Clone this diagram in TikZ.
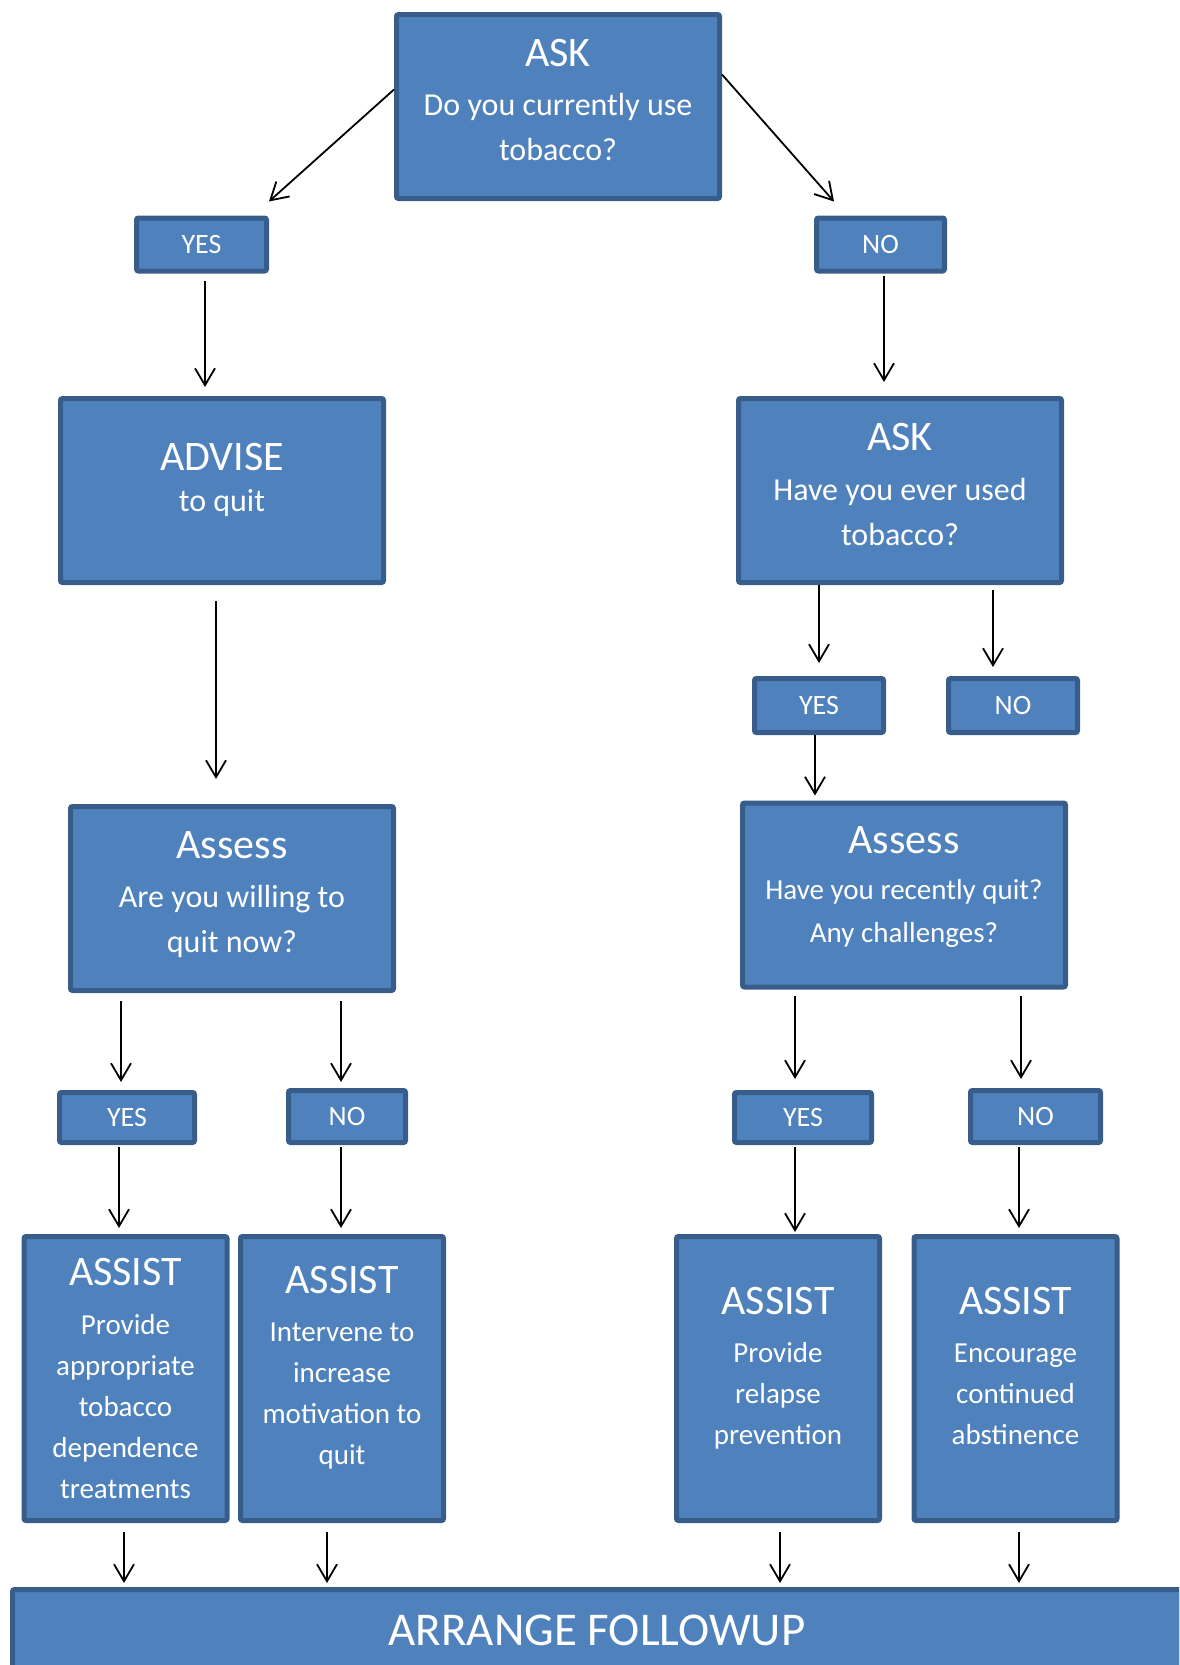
\documentclass[tikz,border=0pt]{standalone}
\usepackage{fontspec}
\setmainfont{Carlito}
\usetikzlibrary{arrows.meta}
\definecolor{boxfill}{HTML}{4F81BD}
\definecolor{boxline}{HTML}{385D8A}
\newcommand\hd[1]{{\fontsize{42}{50}\selectfont #1}}

\begin{document}
\begin{tikzpicture}[x=1pt, y=-1pt,
  box/.style = {rectangle, draw=boxline, fill=boxfill, line width=5pt, rounded corners=2pt, text=white, align=center, inner sep=0pt, font=\fontsize{32}{45}\selectfont, minimum width=323pt, minimum height=184pt},
  tag/.style = {box, font=\fontsize{28}{34}\selectfont, minimum height=53pt},
  assist/.style = {box, font=\fontsize{29}{41}\selectfont, minimum width=203pt, minimum height=284pt},
  arr/.style = {-{Straight Barb[length=17pt, width=20pt]}, line width=1.8pt},]

\useasboundingbox (0,0) rectangle (1179,1665);
\clip (0,0) rectangle (1179,1665);

\node[box, text depth=13pt] (ask1) at (558,106.5) {\hd{ASK}\\[4pt]Do you currently use\\tobacco?};
\node[tag, minimum width=130pt] (yes1) at (201.5,244.5) {YES};
\node[tag, minimum width=128pt] (no1) at (880.5,244.5) {NO};

\node[box, text depth=27pt] (advise) at (222,490.5) {\hd{ADVISE}\\[-4pt]to quit};
\node[box, text depth=13pt] (ask2) at (900,490.5) {\hd{ASK}\\[5pt]Have you ever used\\tobacco?};
\node[tag, minimum width=129pt, minimum height=54pt] (yes2) at (819,705.5) {YES};
\node[tag, minimum width=129pt, minimum height=54pt] (no2) at (1013,705.5) {NO};

\node[box, text depth=13pt] (assess1) at (232,898.5) {\hd{Assess}\\[4pt]Are you willing to\\quit now?};
\node[box, text depth=21pt, font=\fontsize{29}{43}\selectfont] (assess2) at (904,895) {\hd{Assess}\\[3pt]Have you recently quit?\\Any challenges?};

\node[tag, minimum width=135pt, minimum height=50pt] (yes3) at (127,1117.5) {YES};
\node[tag, minimum width=117pt, minimum height=52pt] (no3) at (347,1116.5) {NO};
\node[tag, minimum width=137pt, minimum height=50pt] (yes4) at (803,1117.5) {YES};
\node[tag, minimum width=130pt, minimum height=52pt] (no4) at (1035.5,1116.5) {NO};

\node[assist] (assist1) at (125.5,1378.5) {\hd{ASSIST}\\[8pt]Provide\\appropriate\\tobacco\\dependence\\treatments};
\node[assist, text depth=27pt] (assist2) at (342,1378.5) {\hd{ASSIST}\\[7pt]Intervene to\\increase\\motivation to\\quit};
\node[assist, text depth=26pt] (assist3) at (778,1378.5) {\hd{ASSIST}\\[7pt]Provide\\relapse\\prevention};
\node[assist, text depth=25pt] (assist4) at (1015.5,1378.5) {\hd{ASSIST}\\[7pt]Encourage\\continued\\abstinence};

\node[box, font=\fontsize{47}{56}\selectfont, minimum width=1169pt, minimum height=81pt] (follow) at (597,1630) {ARRANGE FOLLOWUP};

\draw[arr] ([yshift=17pt]ask1.west) -- ([yshift=14pt]yes1.north east);
\draw[arr] ([yshift=32pt]ask1.east) -- ([shift={(20pt,14pt)}]no1.north west);

\draw[arr, shorten <=7pt, shorten >=9pt] (yes1.south -| 205,0) -- (advise.north -| 205,0);
\draw[arr, shorten <=16pt, shorten >=25pt] (advise.south -| 216,0) -- (assess1.north -| 216,0);
\draw[arr, shorten <=8pt, shorten >=8pt] (assess1.south -| 121,0) -- (yes3.north -| 121,0);
\draw[arr, shorten <=8pt, shorten >=6pt] (assess1.south -| 341,0) -- (no3.north -| 341,0);
\draw[arr, shorten <=2pt, shorten >=6pt] (yes3.south -| 119,0) -- (assist1.north -| 119,0);
\draw[arr, shorten <=2pt, shorten >=6pt] (no3.south -| 341,0) -- (assist2.north -| 341,0);

\draw[arr, shorten <=2pt, shorten >=14pt] (no1.south -| 884,0) -- (ask2.north -| 884,0);
\draw[arr, shorten >=13pt] (ask2.south -| 819,0) -- (yes2.north -| 819,0);
\draw[arr, shorten <=5pt, shorten >=9pt] (ask2.south -| 993,0) -- (no2.north -| 993,0);
\draw[arr, shorten >=5pt] (yes2.south -| 815,0) -- (assess2.north -| 815,0);
\draw[arr, shorten <=6pt, shorten >=11pt] (assess2.south -| 795,0) -- (yes4.north -| 795,0);
\draw[arr, shorten <=6pt, shorten >=9pt] (assess2.south -| 1021,0) -- (no4.north -| 1021,0);
\draw[arr, shorten <=2pt, shorten >=2pt] (yes4.south -| 795,0) -- (assist3.north -| 795,0);
\draw[arr, shorten <=2pt, shorten >=6pt] (no4.south -| 1019,0) -- (assist4.north -| 1019,0);

\draw[arr, shorten <=9pt, shorten >=4pt] (assist1.south -| 124,0) -- (follow.north -| 124,0);
\draw[arr, shorten <=9pt, shorten >=4pt] (assist2.south -| 327,0) -- (follow.north -| 327,0);
\draw[arr, shorten <=9pt, shorten >=4pt] (assist3.south -| 780,0) -- (follow.north -| 780,0);
\draw[arr, shorten <=9pt, shorten >=4pt] (assist4.south -| 1019,0) -- (follow.north -| 1019,0);

\end{tikzpicture}
\end{document}
